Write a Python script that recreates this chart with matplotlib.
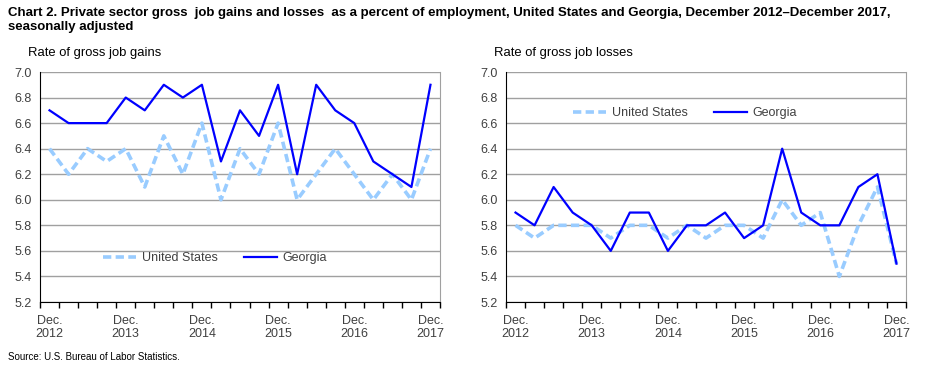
import matplotlib
matplotlib.use("Agg")
import matplotlib.pyplot as plt
import numpy as np

plt.rcParams['font.family'] = ['Liberation Sans', 'DejaVu Sans']

quarters = 21
tick_labels = ["Dec.\n2012", "Dec.\n2013", "Dec.\n2014", "Dec.\n2015", "Dec.\n2016", "Dec.\n2017"]

gains_us = [6.4, 6.2, 6.4, 6.3, 6.4, 6.1, 6.5, 6.2, 6.6, 6.0, 6.4, 6.2, 6.6, 6.0, 6.2, 6.4, 6.2, 6.0, 6.2, 6.0, 6.4]
gains_ga = [6.7, 6.6, 6.6, 6.6, 6.8, 6.7, 6.9, 6.8, 6.9, 6.3, 6.7, 6.5, 6.9, 6.2, 6.9, 6.7, 6.6, 6.3, 6.2, 6.1, 6.9]
losses_us = [5.8, 5.7, 5.8, 5.8, 5.8, 5.7, 5.8, 5.8, 5.7, 5.8, 5.7, 5.8, 5.8, 5.7, 6.0, 5.8, 5.9, 5.4, 5.8, 6.1, 5.5]
losses_ga = [5.9, 5.8, 6.1, 5.9, 5.8, 5.6, 5.9, 5.9, 5.6, 5.8, 5.8, 5.9, 5.7, 5.8, 6.4, 5.9, 5.8, 5.8, 6.1, 6.2, 5.5]

US_COLOR = '#99CCFF'
GA_COLOR = '#0000FF'
TXT = '#404040'

W, H = 930, 372
fig = plt.figure(figsize=(W/100, H/100), dpi=100)

fig.text(8/W, 1 - 20/H, "Chart 2. Private sector gross  job gains and losses  as a percent of employment, United States and Georgia, December 2012\u2013December 2017,\nseasonally adjusted",
         fontsize=9.5, fontweight='bold', va='center', ha='left', linespacing=1.2)
fig.text(8/W, 1 - 357/H, "Source: U.S. Bureau of Labor Statistics.", fontsize=7, va='center', ha='left')

def make_axes(x0, x1, ylabel, us, ga, leg_x, leg_y):
    ax = fig.add_axes([x0/W, 1 - 302/H, (x1 - x0)/W, (302 - 72)/H])
    x = np.arange(quarters)
    ax.plot(x, us, color=US_COLOR, lw=2.6, ls=(0, (2.3, 1.2)), label='United States', dash_capstyle='butt')
    ax.plot(x, ga, color=GA_COLOR, lw=1.6, label='Georgia')
    ax.set_xlim(-0.5, quarters - 0.5)
    ax.set_ylim(5.2, 7.0)
    yt = np.round(np.arange(5.2, 7.01, 0.2), 1)
    ax.set_yticks(yt)
    ax.set_yticklabels([f"{v:.1f}" for v in yt], fontsize=9, color=TXT)
    ax.yaxis.grid(True, color='#A0A0A0', lw=1)
    ax.set_axisbelow(True)
    ax.tick_params(axis='y', length=0, pad=6)
    ax.set_xticks(np.arange(-0.5, quarters, 1))
    ax.set_xticklabels([])
    ax.set_xticks(np.arange(0, quarters, 4), minor=True)
    ax.set_xticklabels(tick_labels, minor=True, fontsize=9, color=TXT, linespacing=1.15)
    ax.tick_params(axis='x', which='major', length=4, direction='out', color='black', width=1)
    ax.tick_params(axis='x', which='minor', length=0, pad=9)
    ax.spines['top'].set_visible(False)
    ax.spines['right'].set_color('#A0A0A0')
    ax.spines['left'].set_color('black')
    ax.spines['bottom'].set_color('black')
    ax.text(-12/(x1 - x0), 1 + 19/230, ylabel, transform=ax.transAxes, fontsize=9.4, ha='left', va='center', color='black')
    leg = ax.legend(loc='center left', bbox_to_anchor=(leg_x, leg_y), ncol=2, frameon=False, fontsize=9,
                    handlelength=2.65, columnspacing=2.1, handletextpad=0.45, borderpad=0, borderaxespad=0)
    for t in leg.get_texts():
        t.set_color(TXT)
    return ax

make_axes(40, 440, "Rate of gross job gains", gains_us, gains_ga, (103 - 40)/400, (302 - 258)/230)
make_axes(506, 906, "Rate of gross job losses", losses_us, losses_ga, (573 - 506)/400, (302 - 113)/230)

fig.savefig("out.png", dpi=100)
